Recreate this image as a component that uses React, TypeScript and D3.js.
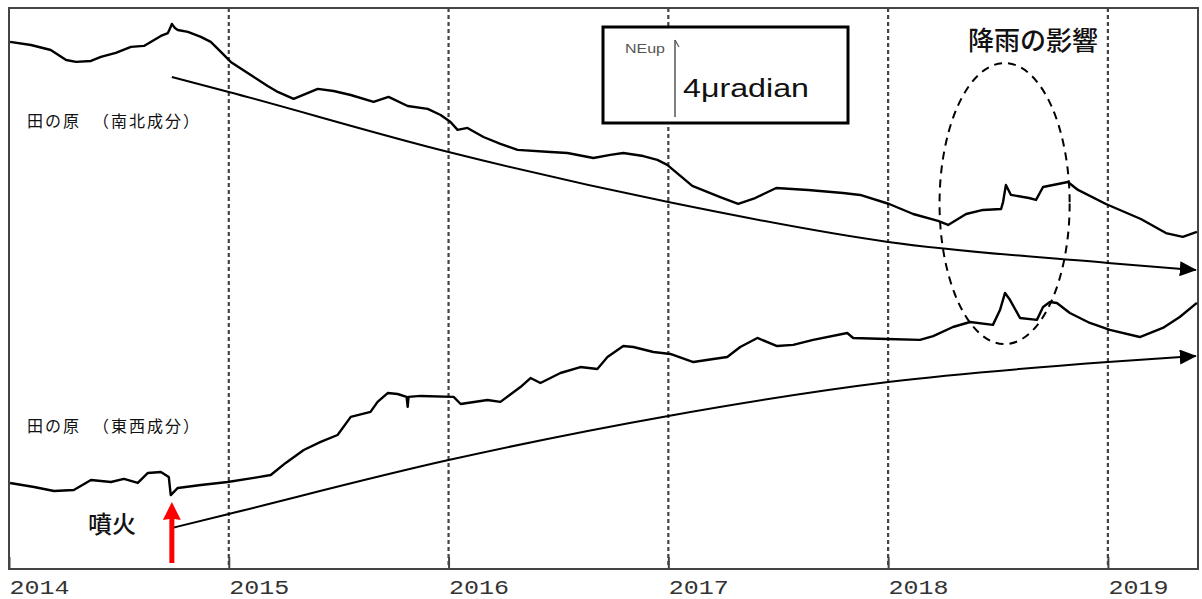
import { useRef, useEffect } from 'react';
import * as d3 from 'd3';

const WIDTH = 1202;
const HEIGHT = 599;

const yearTicks = [2014, 2015, 2016, 2017, 2018, 2019];

// 田の原 南北成分 (μradian, arbitrary offset)
const nsTime = [2014.005, 2014.1, 2014.19, 2014.26, 2014.305, 2014.373, 2014.418, 2014.486, 2014.555, 2014.614, 2014.691, 2014.723, 2014.736, 2014.741, 2014.755, 2014.768, 2014.814, 2014.873, 2014.918, 2014.964, 2015.009, 2015.1, 2015.177, 2015.223, 2015.295, 2015.35, 2015.405, 2015.477, 2015.555, 2015.659, 2015.727, 2015.814, 2015.905, 2015.964, 2016.009, 2016.041, 2016.086, 2016.159, 2016.236, 2016.314, 2016.464, 2016.541, 2016.659, 2016.736, 2016.795, 2016.886, 2016.95, 2016.995, 2017.109, 2017.236, 2017.318, 2017.395, 2017.491, 2017.636, 2017.795, 2017.873, 2018.005, 2018.114, 2018.227, 2018.273, 2018.355, 2018.432, 2018.514, 2018.523, 2018.536, 2018.559, 2018.641, 2018.673, 2018.705, 2018.818, 2018.864, 2018.991, 2019.15, 2019.264, 2019.341, 2019.405];
const nsTilt = [27.38, 27.22, 26.96, 26.44, 26.34, 26.39, 26.60, 26.81, 27.12, 27.17, 27.69, 27.84, 28.16, 28.31, 28.10, 28.00, 27.90, 27.64, 27.38, 26.86, 26.34, 25.66, 25.09, 24.78, 24.42, 24.68, 24.94, 24.83, 24.62, 24.26, 24.52, 24.05, 23.90, 23.58, 23.22, 22.81, 22.91, 22.44, 22.08, 21.77, 21.66, 21.61, 21.35, 21.51, 21.61, 21.45, 21.25, 20.99, 19.90, 19.32, 18.96, 19.27, 19.79, 19.69, 19.53, 19.43, 18.96, 18.44, 18.08, 17.87, 18.44, 18.65, 18.70, 19.06, 19.95, 19.43, 19.27, 19.17, 19.84, 20.10, 19.69, 18.96, 18.18, 17.45, 17.25, 17.51];

// 田の原 東西成分 (μradian, arbitrary offset)
const ewTime = [2014.005, 2014.114, 2014.205, 2014.295, 2014.373, 2014.464, 2014.523, 2014.586, 2014.632, 2014.691, 2014.727, 2014.736, 2014.768, 2014.873, 2014.995, 2015.114, 2015.191, 2015.259, 2015.341, 2015.418, 2015.495, 2015.555, 2015.645, 2015.677, 2015.723, 2015.768, 2015.809, 2015.814, 2015.818, 2015.873, 2016.023, 2016.055, 2016.177, 2016.236, 2016.327, 2016.373, 2016.418, 2016.509, 2016.6, 2016.677, 2016.723, 2016.795, 2016.841, 2016.932, 2017.009, 2017.114, 2017.205, 2017.268, 2017.327, 2017.405, 2017.495, 2017.568, 2017.659, 2017.814, 2017.841, 2017.995, 2018.145, 2018.205, 2018.295, 2018.373, 2018.477, 2018.509, 2018.532, 2018.555, 2018.6, 2018.677, 2018.705, 2018.736, 2018.768, 2018.827, 2018.918, 2019.009, 2019.145, 2019.25, 2019.327, 2019.405];
const ewTilt = [4.47, 4.26, 4.05, 4.10, 4.62, 4.52, 4.68, 4.47, 4.99, 5.04, 4.78, 3.84, 4.21, 4.36, 4.52, 4.73, 4.88, 5.51, 6.18, 6.60, 6.96, 7.90, 8.16, 8.68, 9.14, 9.09, 8.94, 8.42, 8.94, 8.99, 8.94, 8.57, 8.78, 8.68, 9.45, 9.92, 9.66, 10.18, 10.49, 10.39, 11.01, 11.58, 11.53, 11.27, 11.17, 10.75, 10.91, 11.01, 11.53, 12.00, 11.58, 11.64, 11.90, 12.26, 12.00, 11.95, 11.90, 12.10, 12.57, 12.83, 12.68, 13.45, 14.34, 13.97, 13.04, 12.94, 13.61, 13.87, 13.82, 13.30, 12.78, 12.42, 12.05, 12.52, 13.09, 13.82];

// trend arrows (hand drawn in the original)
const trendTime = [2014.741, 2015.0, 2016.0, 2017.0, 2018.0, 2019.0, 2019.40];
const nsTrend = [25.56, 24.78, 21.66, 19.06, 16.99, 15.90, 15.53];
const ewTrend = [2.13, 2.86, 5.66, 7.95, 9.71, 10.75, 11.06];

// eruption 2014-09-27, rain influence ellipse
const eruption = 2014.741;
const eruptionArrow = [0.31, 3.48]; // base, tip
const rainCenter = [2018.53, 18.98];
const rainRadius = [0.296, 7.3];
const scaleBar = 4; // μradian

export default function App() {
    const svgRef = useRef<SVGSVGElement>(null);

    useEffect(() => {
        if (!svgRef.current) return;
        const svg = d3.select(svgRef.current);
        svg.selectAll('*').remove();

        const margin = { top: 8, right: 4, bottom: 30, left: 9 };
        const x = d3.scaleLinear().domain([2014, 2019.41]).range([margin.left, WIDTH - margin.right]);
        const y = d3.scaleLinear().domain([0, 29.14]).range([HEIGHT - margin.bottom, margin.top]);
        const [x0, x1] = x.range();
        const [yb, yt] = y.range();

        svg.append('rect').attr('width', WIDTH).attr('height', HEIGHT).attr('fill', '#fff');

        const defs = svg.append('defs');
        defs.append('marker')
            .attr('id', 'trend-head')
            .attr('markerUnits', 'userSpaceOnUse')
            .attr('viewBox', '0 0 17 15')
            .attr('markerWidth', 17)
            .attr('markerHeight', 15)
            .attr('refX', 16)
            .attr('refY', 7.5)
            .attr('orient', 'auto')
            .append('path')
            .attr('d', 'M0,0 L17,7.5 L0,15 Z')
            .attr('fill', '#000');

        // year dividers
        svg.append('g').selectAll('line')
            .data(yearTicks.slice(1))
            .enter()
            .append('line')
            .attr('x1', d => x(d))
            .attr('x2', d => x(d))
            .attr('y1', yt)
            .attr('y2', yb)
            .attr('stroke', '#444')
            .attr('stroke-width', 2.2)
            .attr('stroke-dasharray', '4,3');

        // axis
        const xAxis = d3.axisBottom(x)
            .tickValues(yearTicks)
            .tickFormat(d3.format('d'))
            .tickSize(-12)
            .tickSizeOuter(0);
        const ax = svg.append('g').attr('transform', `translate(0,${yb})`).call(xAxis);
        ax.select('.domain').remove();
        ax.selectAll('.tick line').attr('stroke', '#444').attr('stroke-width', 2);
        ax.selectAll('.tick text')
            .attr('y', 11)
            .attr('dy', '0.7em')
            .attr('text-anchor', 'start')
            .attr('font-family', '"Liberation Mono", monospace')
            .attr('font-size', 20)
            .attr('fill', '#333')
            .attr('textLength', 60)
            .attr('lengthAdjust', 'spacingAndGlyphs');

        // frame
        svg.append('rect')
            .attr('x', x0)
            .attr('y', yt)
            .attr('width', x1 - x0)
            .attr('height', yb - yt)
            .attr('fill', 'none')
            .attr('stroke', '#444')
            .attr('stroke-width', 2);

        const line = d3.line<[number, number]>().x(d => x(d[0])).y(d => y(d[1]));
        const zip = (t: number[], v: number[]) => t.map((d, i) => [d, v[i]] as [number, number]);

        [zip(nsTime, nsTilt), zip(ewTime, ewTilt)].forEach(series => {
            svg.append('path')
                .datum(series)
                .attr('d', line)
                .attr('fill', 'none')
                .attr('stroke', '#000')
                .attr('stroke-width', 2.4)
                .attr('stroke-linejoin', 'round');
        });

        // trend arrows
        const trendLine = d3.line<[number, number]>()
            .x(d => x(d[0]))
            .y(d => y(d[1]))
            .curve(d3.curveMonotoneX);
        [nsTrend, ewTrend].forEach(tr => {
            svg.append('path')
                .datum(zip(trendTime, tr))
                .attr('d', trendLine)
                .attr('fill', 'none')
                .attr('stroke', '#000')
                .attr('stroke-width', 2)
                .attr('marker-end', 'url(#trend-head)');
        });

        // rain ellipse
        const cx = x(rainCenter[0]);
        const cy = y(rainCenter[1]);
        svg.append('ellipse')
            .attr('cx', cx)
            .attr('cy', cy)
            .attr('rx', x(rainCenter[0] + rainRadius[0]) - cx)
            .attr('ry', y(rainCenter[1] - rainRadius[1]) - cy)
            .attr('fill', 'none')
            .attr('stroke', '#000')
            .attr('stroke-width', 2)
            .attr('stroke-dasharray', '8,6');

        svg.append('text')
            .attr('x', 968)
            .attr('y', 50)
            .attr('font-family', '"Noto Sans CJK JP", sans-serif')
            .attr('font-size', 26)
            .attr('font-weight', 500)
            .attr('fill', '#111')
            .text('降雨の影響');

        // eruption arrow
        const ex = x(eruption);
        const tip = y(eruptionArrow[1]);
        const base = y(eruptionArrow[0]);
        svg.append('path')
            .attr('d', `M${ex - 2.5},${base} L${ex - 2.5},${tip + 17} L${ex - 9},${tip + 18} L${ex},${tip} L${ex + 9},${tip + 18} L${ex + 2.5},${tip + 17} L${ex + 2.5},${base} Z`)
            .attr('fill', '#f00');

        svg.append('text')
            .attr('x', 88)
            .attr('y', 533)
            .attr('font-family', '"Noto Sans CJK JP", sans-serif')
            .attr('font-size', 24)
            .attr('font-weight', 500)
            .attr('fill', '#111')
            .text('噴火');

        // station labels
        const labels = [
            { name: '田の原', part: '（南北成分）', yy: 127 },
            { name: '田の原', part: '（東西成分）', yy: 432 },
        ];
        labels.forEach(l => {
            const t = svg.append('text')
                .attr('y', l.yy)
                .attr('font-family', '"Noto Sans CJK JP", sans-serif')
                .attr('font-size', 16)
                .attr('letter-spacing', 2)
                .attr('fill', '#111');
            t.append('tspan').attr('x', 27).text(l.name);
            t.append('tspan').attr('x', 93).text(l.part);
        });

        // scale box
        const lg = svg.append('g');
        lg.append('rect')
            .attr('x', 603)
            .attr('y', 27)
            .attr('width', 245)
            .attr('height', 96)
            .attr('fill', '#fff')
            .attr('stroke', '#000')
            .attr('stroke-width', 3);
        const barLen = y(0) - y(scaleBar);
        lg.append('line')
            .attr('x1', 675).attr('x2', 675)
            .attr('y1', 40).attr('y2', 40 + barLen)
            .attr('stroke', '#555')
            .attr('stroke-width', 1.5);
        lg.append('line')
            .attr('x1', 675).attr('x2', 679)
            .attr('y1', 40).attr('y2', 47)
            .attr('stroke', '#555')
            .attr('stroke-width', 1.2);
        lg.append('text')
            .attr('x', 625)
            .attr('y', 53)
            .attr('font-family', '"Liberation Sans", sans-serif')
            .attr('font-size', 12)
            .attr('fill', '#555')
            .attr('textLength', 40)
            .attr('lengthAdjust', 'spacingAndGlyphs')
            .text('NEup');
        lg.append('text')
            .attr('x', 683)
            .attr('y', 97)
            .attr('font-family', '"Liberation Sans", sans-serif')
            .attr('font-size', 26)
            .attr('fill', '#111')
            .attr('textLength', 126)
            .attr('lengthAdjust', 'spacingAndGlyphs')
            .text('4μradian');
    }, []);

    return (
        <div style={{ position: 'fixed', left: 0, top: 0, background: '#fff' }}>
            <svg ref={svgRef} width={WIDTH} height={HEIGHT} style={{ display: 'block' }} />
        </div>
    );
}
